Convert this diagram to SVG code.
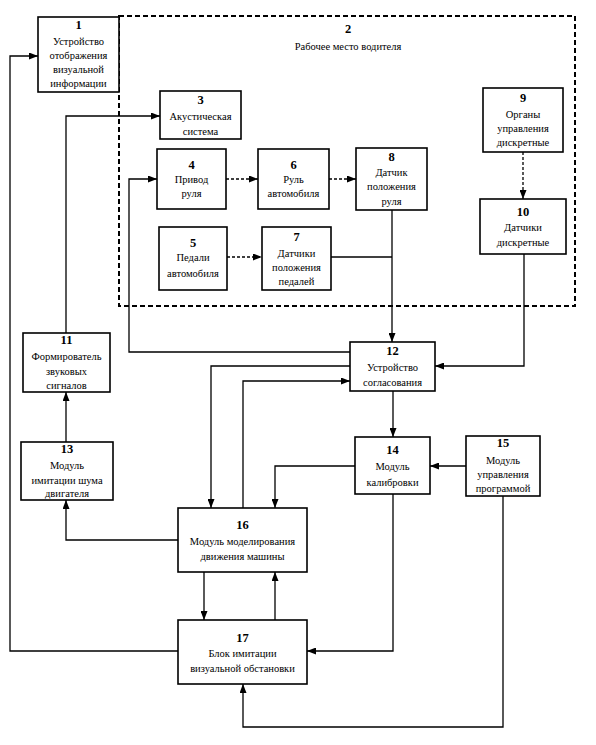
<svg xmlns="http://www.w3.org/2000/svg" width="596" height="745" viewBox="0 0 596 745">
<style>
.box{fill:#fff;stroke:#000;stroke-width:1.6}
.ln{fill:none;stroke:#000;stroke-width:1.3}
.dl{fill:none;stroke:#000;stroke-width:1.3;stroke-dasharray:3,2}
.fr{fill:none;stroke:#000;stroke-width:2;stroke-dasharray:5,3}
text{font-family:"Liberation Serif","Times New Roman",serif;font-size:10.5px;text-anchor:middle;fill:#000}
.n{font-weight:bold;font-size:12.5px}
</style>
<defs>
<marker id="a" markerWidth="9" markerHeight="7" refX="9" refY="3.5" orient="auto" markerUnits="userSpaceOnUse">
<path d="M0,0 L9,3.5 L0,7 Z" fill="#000"/>
</marker>
</defs>
<rect width="596" height="745" fill="#fff"/>
<g id="node2">
<rect class="fr" x="119" y="16" width="456" height="290"/>
<text class="n" x="348" y="33">2</text>
<text x="348" y="50">Рабочее место водителя</text>
</g>
<g id="connectors">
<path class="ln" d="M178,651 H10 V56 H38" marker-end="url(#a)"/>
<path class="ln" d="M66,333 V116 H160" marker-end="url(#a)"/>
<path class="ln" d="M66,442 V392" marker-end="url(#a)"/>
<path class="ln" d="M178,540 H66 V500" marker-end="url(#a)"/>
<path class="ln" d="M350,352 H129 V179 H157" marker-end="url(#a)"/>
<path class="dl" d="M226,179 H258" marker-end="url(#a)"/>
<path class="dl" d="M329,179 H356" marker-end="url(#a)"/>
<path class="dl" d="M227,257 H262" marker-end="url(#a)"/>
<path class="dl" d="M523,152 V199" marker-end="url(#a)"/>
<path class="ln" d="M392,210 V342" marker-end="url(#a)"/>
<path class="ln" d="M331,257 H392"/>
<path class="ln" d="M524,254 V366 H435" marker-end="url(#a)"/>
<path class="ln" d="M350,366 H211 V508" marker-end="url(#a)"/>
<path class="ln" d="M243,508 V381 H350" marker-end="url(#a)"/>
<path class="ln" d="M355,466 H275 V508" marker-end="url(#a)"/>
<path class="ln" d="M393,391 V437" marker-end="url(#a)"/>
<path class="ln" d="M466,466 H430" marker-end="url(#a)"/>
<path class="ln" d="M393,494 V651 H307" marker-end="url(#a)"/>
<path class="ln" d="M503,496 V727 H243 V684" marker-end="url(#a)"/>
<path class="ln" d="M204,572 V620" marker-end="url(#a)"/>
<path class="ln" d="M275,620 V572" marker-end="url(#a)"/>
</g>
<g id="node1">
<rect class="box" x="38" y="17" width="81" height="75"/>
<text class="n" x="78.5" y="29">1</text>
<text x="78.5" y="45">Устройство</text>
<text x="78.5" y="59">отображения</text>
<text x="78.5" y="73">визуальной</text>
<text x="78.5" y="87">информации</text>
</g>
<g id="node3">
<rect class="box" x="160" y="91" width="81" height="48"/>
<text class="n" x="200.5" y="104">3</text>
<text x="200.5" y="120">Акустическая</text>
<text x="200.5" y="135">система</text>
</g>
<g id="node4">
<rect class="box" x="157" y="149" width="69" height="60"/>
<text class="n" x="191.5" y="169">4</text>
<text x="191.5" y="183">Привод</text>
<text x="191.5" y="197">руля</text>
</g>
<g id="node6">
<rect class="box" x="258" y="149" width="71" height="60"/>
<text class="n" x="293.5" y="169">6</text>
<text x="293.5" y="183">Руль</text>
<text x="293.5" y="197">автомобиля</text>
</g>
<g id="node8">
<rect class="box" x="356" y="148" width="71" height="62"/>
<text class="n" x="391.5" y="161">8</text>
<text x="391.5" y="176">Датчик</text>
<text x="391.5" y="190">положения</text>
<text x="391.5" y="205">руля</text>
</g>
<g id="node5">
<rect class="box" x="159" y="227" width="68" height="63"/>
<text class="n" x="193" y="247">5</text>
<text x="193" y="261">Педали</text>
<text x="193" y="277">автомобиля</text>
</g>
<g id="node7">
<rect class="box" x="262" y="227" width="69" height="63"/>
<text class="n" x="296.5" y="241">7</text>
<text x="296.5" y="257">Датчики</text>
<text x="296.5" y="271">положения</text>
<text x="296.5" y="285">педалей</text>
</g>
<g id="node9">
<rect class="box" x="483" y="88" width="80" height="64"/>
<text class="n" x="523" y="102">9</text>
<text x="523" y="118">Органы</text>
<text x="523" y="132">управления</text>
<text x="523" y="146">дискретные</text>
</g>
<g id="node10">
<rect class="box" x="480" y="199" width="86" height="55"/>
<text class="n" x="523" y="216">10</text>
<text x="523" y="231">Датчики</text>
<text x="523" y="246">дискретные</text>
</g>
<g id="node11">
<rect class="box" x="23" y="333" width="87" height="59"/>
<text class="n" x="66.5" y="344">11</text>
<text x="66.5" y="360">Формирователь</text>
<text x="66.5" y="375">звуковых</text>
<text x="66.5" y="389">сигналов</text>
</g>
<g id="node12">
<rect class="box" x="350" y="342" width="85" height="49"/>
<text class="n" x="392.5" y="355">12</text>
<text x="392.5" y="371">Устройство</text>
<text x="392.5" y="386">согласования</text>
</g>
<g id="node13">
<rect class="box" x="21" y="442" width="92" height="58"/>
<text class="n" x="67" y="453">13</text>
<text x="67" y="469">Модуль</text>
<text x="67" y="484">имитации шума</text>
<text x="67" y="497">двигателя</text>
</g>
<g id="node14">
<rect class="box" x="355" y="437" width="75" height="57"/>
<text class="n" x="392.5" y="454">14</text>
<text x="392.5" y="470">Модуль</text>
<text x="392.5" y="486">калибровки</text>
</g>
<g id="node15">
<rect class="box" x="466" y="436" width="74" height="60"/>
<text class="n" x="503" y="447">15</text>
<text x="503" y="464">Модуль</text>
<text x="503" y="478">управления</text>
<text x="503" y="492">программой</text>
</g>
<g id="node16">
<rect class="box" x="178" y="508" width="129" height="64"/>
<text class="n" x="242.5" y="529">16</text>
<text x="242.5" y="545">Модуль моделирования</text>
<text x="242.5" y="560">движения машины</text>
</g>
<g id="node17">
<rect class="box" x="178" y="620" width="129" height="64"/>
<text class="n" x="242.5" y="642">17</text>
<text x="242.5" y="657">Блок  имитации</text>
<text x="242.5" y="672">визуальной обстановки</text>
</g>
</svg>
